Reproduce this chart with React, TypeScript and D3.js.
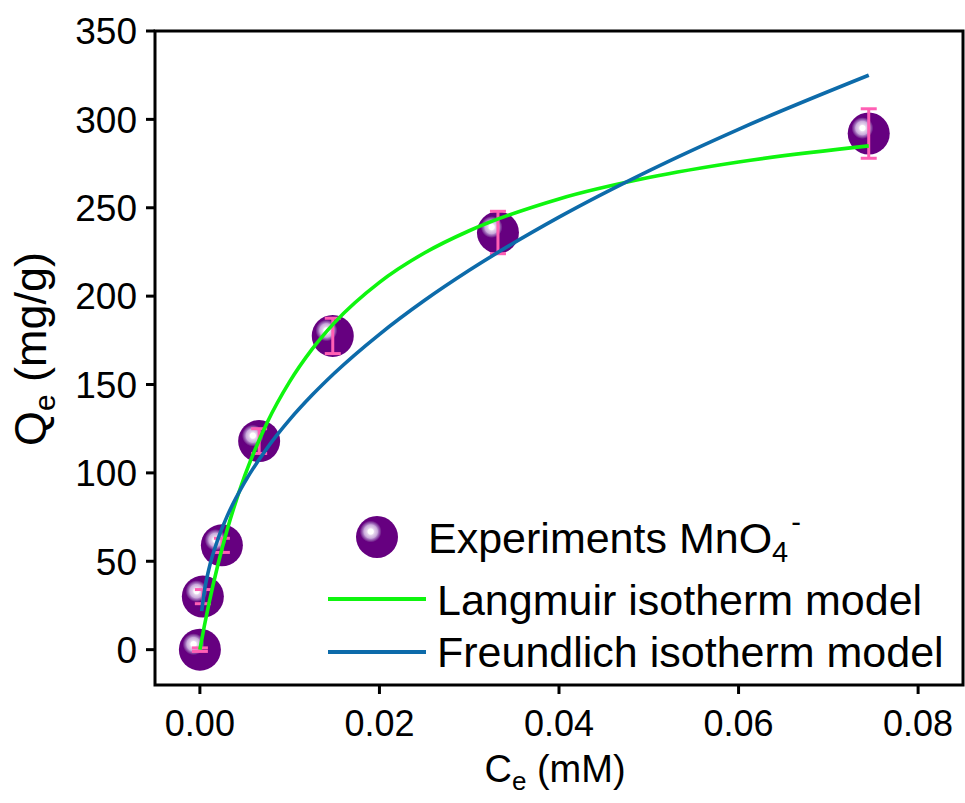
import * as d3 from "d3";

// experimental points
const ceData = [0, 0.00033, 0.00245, 0.0066, 0.0148, 0.0332, 0.0745];
const qeData = [0, 30, 59, 118, 177.5, 236, 292];
const qeErr = [1, 4, 4, 7, 10, 12, 14];

// fitted curves
const langC = [0, 0.0005, 0.001, 0.002, 0.003, 0.005, 0.0075, 0.01, 0.0125, 0.015, 0.02, 0.025, 0.03, 0.04, 0.05, 0.06, 0.0745];
const langQ = [0, 13.5, 25.9, 47.9, 67.1, 98.4, 128.5, 151.6, 170.0, 185.0, 207.8, 224.4, 237.0, 255.0, 267.1, 275.9, 285.0];
const freuC = [0.0002, 0.0005, 0.001, 0.002, 0.003, 0.005, 0.0075, 0.01, 0.0125, 0.015, 0.02, 0.025, 0.03, 0.04, 0.05, 0.06, 0.0745];
const freuQ = [21.8, 33.2, 45.5, 62.4, 75.1, 94.8, 114.1, 130.1, 144.0, 156.5, 178.4, 197.5, 214.6, 244.7, 270.9, 294.4, 325.0];

const xTicks = [0, 0.02, 0.04, 0.06, 0.08];
const yTicks = [0, 50, 100, 150, 200, 250, 300, 350];

const width = 965;
const height = 803;
const margin = { top: 31, right: 2, bottom: 118, left: 155 };

const FONT = "'Liberation Sans', Arial, sans-serif";
const GREEN = "#0FF50F";
const BLUE = "#0D6BAA";
const PINK = "#FF5FB4";

// shaded sphere marker
function Ball({ cx, cy, r }: { cx: number; cy: number; r: number }) {
  const hx = cx - r * 0.3;
  const hy = cy - r * 0.26;
  return (
    <g>
      <circle cx={cx} cy={cy} r={r} fill="#660080" />
      <circle cx={hx} cy={hy} r={r * 0.52} fill="url(#hiGrad)" />
    </g>
  );
}

export default function App() {
  const x = d3
    .scaleLinear()
    .domain([-0.005, 0.085])
    .range([margin.left, width - margin.right]);
  const y = d3
    .scaleLinear()
    .domain([-20, 350])
    .range([height - margin.bottom, margin.top]);

  const line = d3
    .line<[number, number]>()
    .x((d) => x(d[0]))
    .y((d) => y(d[1]))
    .curve(d3.curveMonotoneX);

  const langPts = langC.map((c, i) => [c, langQ[i]] as [number, number]);
  const freuPts = freuC.map((c, i) => [c, freuQ[i]] as [number, number]);

  const x0 = margin.left;
  const y0 = height - margin.bottom;

  return (
    <svg
      width={width}
      height={height}
      style={{ position: "absolute", left: 0, top: 0, background: "#fff" }}
      fontFamily={FONT}
    >
      <defs>
        <radialGradient id="hiGrad" cx="50%" cy="50%" r="50%">
          <stop offset="0%" stopColor="#ffffff" />
          <stop offset="24%" stopColor="#ffffff" />
          <stop offset="34%" stopColor="#e6d6ee" />
          <stop offset="62%" stopColor="#c9a9da" />
          <stop offset="70%" stopColor="#ab7dc4" />
          <stop offset="88%" stopColor="#7f3599" />
          <stop offset="100%" stopColor="#660080" />
        </radialGradient>
      </defs>

      {/* frame */}
      <rect
        x={x0}
        y={margin.top}
        width={width - margin.right - margin.left}
        height={height - margin.top - margin.bottom}
        fill="none"
        stroke="#000"
        strokeWidth={3}
      />

      {/* y ticks */}
      {yTicks.map((t) => (
        <g key={"y" + t}>
          <line x1={x0 - 9} x2={x0} y1={y(t)} y2={y(t)} stroke="#000" strokeWidth={3} />
          <text x={x0 - 18} y={y(t)} dy="0.36em" textAnchor="end" fontSize={37}>
            {t}
          </text>
        </g>
      ))}

      {/* x ticks */}
      {xTicks.map((t) => (
        <g key={"x" + t}>
          <line x1={x(t)} x2={x(t)} y1={y0} y2={y0 + 9} stroke="#000" strokeWidth={3} />
          <text x={x(t)} y={736} textAnchor="middle" fontSize={36}>
            {t.toFixed(2)}
          </text>
        </g>
      ))}

      {/* axis titles */}
      <text x={555} y={782} textAnchor="middle" fontSize={38}>
        C<tspan fontSize={26} dy={8}>e</tspan>
        <tspan dy={-8}> (mM)</tspan>
      </text>
      <text transform={`translate(46,349) rotate(-90)`} textAnchor="middle" fontSize={45}>
        Q<tspan fontSize={30} dy={9}>e</tspan>
        <tspan dy={-9}> (mg/g)</tspan>
      </text>

      {/* markers */}
      {ceData.map((c, i) => (
        <Ball key={"m" + i} cx={x(c)} cy={y(qeData[i])} r={21} />
      ))}

      {/* error bars */}
      {ceData.map((c, i) => {
        const cx = x(c);
        const top = y(qeData[i] + qeErr[i]);
        const bot = y(qeData[i] - qeErr[i]);
        return (
          <g key={"e" + i} stroke={PINK} strokeWidth={3}>
            <line x1={cx} x2={cx} y1={top} y2={bot} />
            <line x1={cx - 8} x2={cx + 8} y1={top} y2={top} />
            <line x1={cx - 8} x2={cx + 8} y1={bot} y2={bot} />
          </g>
        );
      })}

      {/* fitted curves */}
      <path d={line(langPts) || ""} fill="none" stroke={GREEN} strokeWidth={3.6} />
      <path d={line(freuPts) || ""} fill="none" stroke={BLUE} strokeWidth={3.6} />

      {/* legend */}
      <Ball cx={377} cy={537} r={21} />
      <text x={428} y={553} fontSize={43}>
        Experiments MnO<tspan fontSize={29} dy={9}>4</tspan>
        <tspan fontSize={29} dx={3} dy={-30}>-</tspan>
      </text>
      <line x1={328} x2={426} y1={599} y2={599} stroke={GREEN} strokeWidth={3.8} />
      <text x={437} y={615} fontSize={43}>
        Langmuir isotherm model
      </text>
      <line x1={328} x2={426} y1={652} y2={652} stroke={BLUE} strokeWidth={3.8} />
      <text x={437} y={667} fontSize={43}>
        Freundlich isotherm model
      </text>
    </svg>
  );
}
